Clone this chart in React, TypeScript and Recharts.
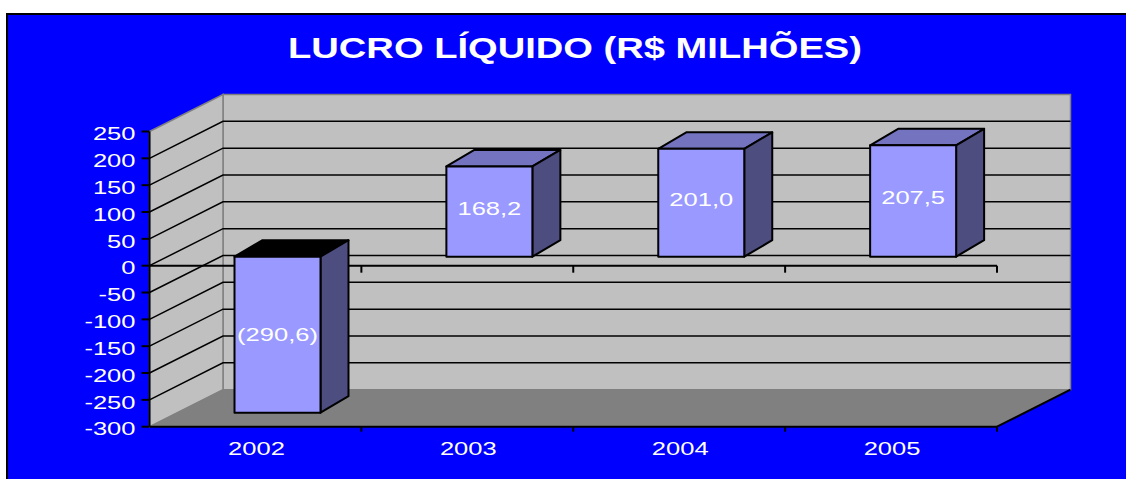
import React from "react";
import {
  BarChart,
  Bar,
  XAxis,
  YAxis,
  ReferenceArea,
  ReferenceLine,
  LabelList,
} from "recharts";

const years = ["2002", "2003", "2004", "2005"];
const lucro = [-290.6, 168.2, 201.0, 207.5];
const yTicks = [250, 200, 150, 100, 50, 0, -50, -100, -150, -200, -250, -300];

const chartData = years.map((year, i) => ({ year, lucro: lucro[i] }));

const FONT = "'Liberation Sans', Arial, sans-serif";
const WALL_DX = 73.5;
const WALL_DY = 37;
const BAR_DX = 22;
const BAR_DY = -9;
const DEPTH_DX = 28;
const DEPTH_DY = 16.5;
const STRETCH = 1.38;

const formatValue = (v: number) => {
  const s = Math.abs(v).toFixed(1).replace(".", ",");
  return v < 0 ? `(${s})` : s;
};

function Walls({ x, y, width, height }: any) {
  const r = x + width;
  const b = y + height;
  const pts = (list: number[][]) => list.map((p) => p.join(",")).join(" ");
  return (
    <g>
      <polygon
        points={pts([[x + WALL_DX, y - WALL_DY], [r + WALL_DX, y - WALL_DY], [r + WALL_DX, b - WALL_DY], [x + WALL_DX, b - WALL_DY]])}
        fill="#C0C0C0"
        stroke="#808080"
        strokeWidth={1.5}
      />
      <polygon
        points={pts([[x, y], [x + WALL_DX, y - WALL_DY], [x + WALL_DX, b - WALL_DY], [x, b]])}
        fill="#C0C0C0"
        stroke="#808080"
        strokeWidth={1.5}
      />
      <polygon
        points={pts([[x, b], [x + WALL_DX, b - WALL_DY], [r + WALL_DX, b - WALL_DY], [r, b]])}
        fill="#808080"
      />
      <line x1={r} y1={b} x2={r + WALL_DX} y2={b - WALL_DY} stroke="#000" strokeWidth={2} />
    </g>
  );
}

function WallGridLine({ x1, y1, x2 }: any) {
  const left = Math.min(x1, x2);
  const right = Math.max(x1, x2);
  return (
    <polyline
      points={`${left},${y1} ${left + WALL_DX},${y1 - WALL_DY} ${right + WALL_DX},${y1 - WALL_DY}`}
      fill="none"
      stroke="#000"
      strokeWidth={1.5}
    />
  );
}

// eixo de categorias: linha com marcas entre as categorias
function CategoryLine({ x1, y1, x2, y2, tick }: any) {
  const left = Math.min(x1, x2);
  const right = Math.max(x1, x2);
  const step = (right - left) / years.length;
  return (
    <g stroke="#000" strokeWidth={2}>
      <line x1={left} y1={y1} x2={right} y2={y2} />
      {years.map((y, i) => (
        <line key={y} x1={left + step * (i + 1)} y1={y1} x2={left + step * (i + 1)} y2={y1 + tick} />
      ))}
    </g>
  );
}

function Box3D({ x, y, width, height, payload }: any) {
  const top = Math.min(y, y + height) + BAR_DY;
  const h = Math.abs(height);
  const l = x + BAR_DX;
  const r = l + width;
  const negative = payload.lucro < 0;
  return (
    <g stroke="#000" strokeWidth={2} strokeLinejoin="round">
      <polygon
        points={`${l},${top} ${l + DEPTH_DX},${top - DEPTH_DY} ${r + DEPTH_DX},${top - DEPTH_DY} ${r},${top}`}
        fill={negative ? "#000" : "#7373BF"}
      />
      <polygon
        points={`${r},${top} ${r + DEPTH_DX},${top - DEPTH_DY} ${r + DEPTH_DX},${top + h - DEPTH_DY} ${r},${top + h}`}
        fill="#4D4D80"
      />
      <rect x={l} y={top} width={width} height={h} fill="#9999FF" />
    </g>
  );
}

function StretchedText({ x, y, anchor = "middle", children, fill = "#fff" }: any) {
  return (
    <g transform={`translate(${x},${y}) scale(${STRETCH},1)`}>
      <text
        textAnchor={anchor}
        dominantBaseline="central"
        fontFamily={FONT}
        fontSize={18.5}
        fill={fill}
      >
        {children}
      </text>
    </g>
  );
}

function YTick({ x, y, payload }: any) {
  return (
    <StretchedText x={x} y={y + 2.5} anchor="end">
      {payload.value}
    </StretchedText>
  );
}

function XTick({ x, y, payload }: any) {
  return (
    <StretchedText x={x + 1} y={y + 14.5}>
      {payload.value}
    </StretchedText>
  );
}

function BarLabel({ x, y, width, height, value }: any) {
  const top = Math.min(y, y + height);
  const nudge = value < 0 ? 0 : -3;
  return (
    <StretchedText x={x + BAR_DX + width / 2} y={top + Math.abs(height) / 2 + BAR_DY + nudge}>
      {formatValue(value)}
    </StretchedText>
  );
}

export default function App() {
  return (
    <div style={{ position: "absolute", left: 0, top: 0, width: 1126, height: 479, background: "#fff", overflow: "hidden" }}>
      <div
        style={{
          position: "absolute",
          left: 6,
          top: 13,
          right: 0,
          bottom: 0,
          background: "#0000FF",
          borderLeft: "2px solid #000",
          borderTop: "2px solid #000",
        }}
      />
      <div style={{ position: "absolute", left: 0, top: 0 }}>
        <BarChart
          width={1126}
          height={479}
          data={chartData}
          barSize={86}
          margin={{ top: 131.5, right: 129, bottom: 12.3, left: 89.5 }}
        >
          <text
            x={575}
            y={48}
            textAnchor="middle"
            dominantBaseline="central"
            fontFamily={FONT}
            fontWeight="bold"
            fontSize={29}
            fill="#fff"
            textLength={574}
            lengthAdjust="spacingAndGlyphs"
          >
            LUCRO LÍQUIDO (R$ MILHÕES)
          </text>
          <ReferenceArea y1={-300} y2={250} shape={<Walls />} ifOverflow="visible" zIndex={-200} />
          {yTicks.slice(1, -1).map((v) => (
            <ReferenceLine key={v} y={v} shape={<WallGridLine />} ifOverflow="visible" zIndex={-150} />
          ))}
          <XAxis
            dataKey="year"
            height={40}
            axisLine={false}
            tickLine={false}
            tick={<XTick />}
            interval={0}
          />
          <YAxis
            width={60}
            domain={[-300, 250]}
            ticks={yTicks}
            interval={0}
            axisLine={{ stroke: "#000", strokeWidth: 2 }}
            tickLine={{ stroke: "#000", strokeWidth: 2 }}
            tickSize={8}
            tickMargin={6}
            tick={<YTick />}
          />
          <ReferenceLine y={0} shape={<CategoryLine tick={7} />} ifOverflow="visible" zIndex={-100} />
          <ReferenceLine y={-300} shape={<CategoryLine tick={5} />} ifOverflow="visible" zIndex={-100} />
          <Bar dataKey="lucro" shape={<Box3D />} isAnimationActive={false}>
            <LabelList dataKey="lucro" content={<BarLabel />} />
          </Bar>
        </BarChart>
      </div>
    </div>
  );
}
